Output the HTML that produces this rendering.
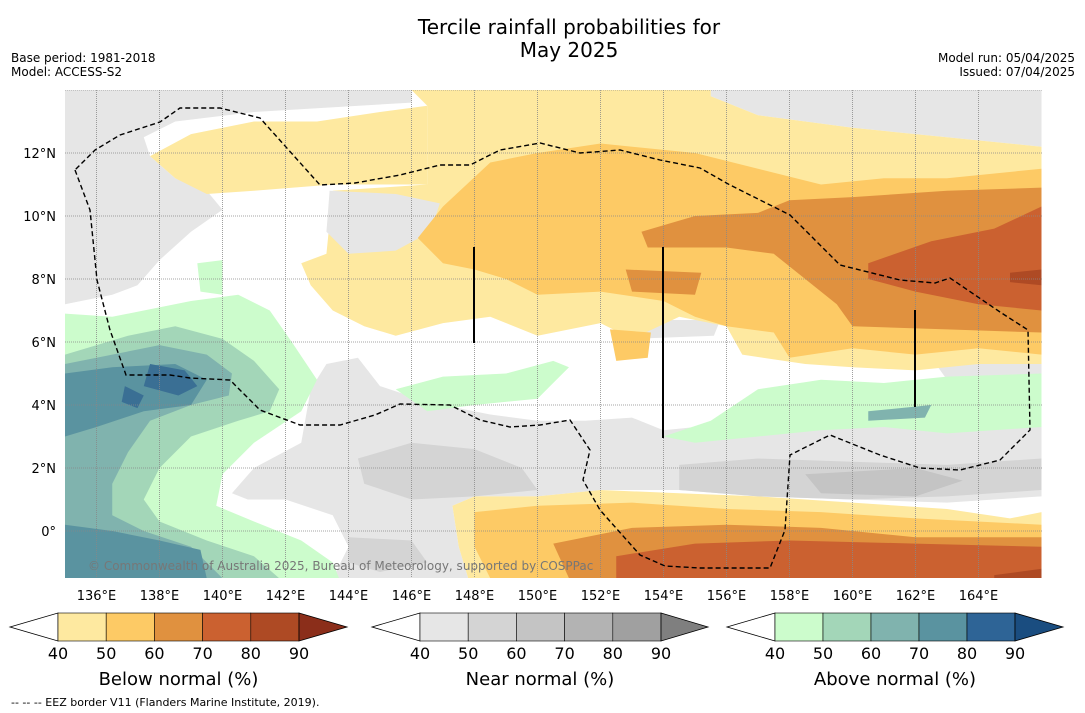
<!DOCTYPE html>
<html><head><meta charset="utf-8"><style>
body{margin:0;background:#fff;font-family:"Liberation Sans","DejaVu Sans",sans-serif;}
svg{display:block}
</style></head><body>
<svg id="chart" width="1085" height="713" xmlns="http://www.w3.org/2000/svg">
<rect width="1085" height="713" fill="#fff"/>
<text x="569" y="34" font-size="20" text-anchor="middle" font-family="DejaVu Sans, sans-serif">Tercile rainfall probabilities for</text>
<text x="569" y="57" font-size="20" text-anchor="middle" font-family="DejaVu Sans, sans-serif">May 2025</text>
<text x="11" y="62" font-size="12" font-family="DejaVu Sans, sans-serif">Base period: 1981-2018</text>
<text x="11" y="76" font-size="12" font-family="DejaVu Sans, sans-serif">Model: ACCESS-S2</text>
<text x="1075" y="62" font-size="12" text-anchor="end" font-family="DejaVu Sans, sans-serif">Model run: 05/04/2025</text>
<text x="1075" y="76" font-size="12" text-anchor="end" font-family="DejaVu Sans, sans-serif">Issued: 07/04/2025</text>
<clipPath id="mapclip"><rect x="65" y="90" width="977" height="488"/></clipPath>
<g id="map" clip-path="url(#mapclip)"></g>
<g id="axes"></g>
<g id="bars"></g>
<text x="11" y="706" font-size="11" font-family="DejaVu Sans, sans-serif">-- -- -- EEZ border V11 (Flanders Marine Institute, 2019).</text>
</svg>
<script>
const NS="http://www.w3.org/2000/svg";
const lonTicks=[136,138,140,142,144,146,148,150,152,154,156,158,160,162,164];
const latTicks=[0,2,4,6,8,10,12];
const colorsBelow=["#fee9a0","#fdca65","#e0913f","#cb6130","#ae4a24","#8b2e1a"];
const colorsNear=["#e6e6e6","#d4d4d4","#c4c4c4","#b3b3b3","#a0a0a0","#7f7f7f"];
const colorsAbove=["#ccfccc","#a3d6b8","#80b3ae","#5a93a0","#2e6496","#1a4d80"];
const barLabels=[40,50,60,70,80,90];
const G1=[
[[135,14],[146,14],[146,13.6],[141,13.3],[138.5,13],[137.5,12.5],[137.7,11.9],[138.5,11.2],[139.5,10.8],[140,10.2],[139,9.5],[138,8.6],[137.3,7.8],[136.5,7.5],[135,7.2]],
[[155.5,14],[166,14],[166,12.2],[163,12.5],[160,12.8],[157,13.2],[155.5,13.8]],
[[140.3,1.2],[141,2],[142.5,2.8],[142.8,4.5],[143.3,5.3],[144.3,5.5],[145,4.6],[146.5,4.1],[148.5,3.7],[150,3.5],[151.5,3.5],[153,3.6],[154,3.2],[156,3.4],[158,3.5],[160,3.5],[163,3.7],[166,3.7],[166,1.1],[163,0.9],[160,1],[157,1.1],[154.5,1.3],[152,1.3],[150,1.1],[148,1.1],[147.3,0.8],[147.5,-0.5],[147.8,-1.5],[143.5,-1.5],[144,-0.5],[143.5,0.5],[142,1],[140.8,1]],
[[162.5,5.5],[166,5.4],[166,4.7],[163,4.8]],
[[152.8,6.7],[155.8,6.7],[155.6,6.2],[153,6.1]]
];
const G1b=[[[143.4,10.8],[145.5,10.7],[146.9,10.4],[146.6,9.5],[145.5,8.9],[144,8.8],[143.3,9.5]]];
const G2=[
[[144.3,2.3],[146,2.8],[148,2.6],[149.5,2],[150,1.3],[148,1.1],[146,1],[144.5,1.5]],
[[154.5,2.1],[157,2.3],[160,2.2],[163,2.1],[166,2.3],[166,1.3],[163,1.1],[160,1],[157,1.1],[154.5,1.3]],
[[144,-0.2],[146,-0.3],[146.5,-1],[145,-1.3],[144,-1]]
];
const G3=[[[158.5,1.8],[162,2],[163.5,1.6],[162,1.1],[159,1.2]]];
const Y1=[
[[137.7,11.9],[139,12.6],[141,13],[143,13],[145,13.3],[146.5,13.5],[146.5,11],[143.5,11],[141,10.8],[139.5,10.7],[138.5,11.2]],
[[146,14],[155.5,14],[155.5,13.8],[157,13.2],[160,12.8],[163,12.5],[166,12.2],[166,5.3],[164,5.3],[162,5.1],[160,5.2],[158.5,5.3],[156.5,5.6],[156,6.5],[154.5,6.8],[153,6.1],[152,6.6],[150,6.2],[148.5,6.8],[147,6.6],[145.5,6.2],[144.5,6.5],[143.5,7],[142.8,7.8],[142.5,8.5],[143.3,8.8],[143.5,10.8],[146.5,11],[146.5,13.5]],
[[147.3,0.8],[148,1.1],[150,1.1],[152,1.3],[154.5,1.2],[157,1.1],[160,0.9],[163,0.7],[165,0.4],[166,0.6],[166,-1.5],[147.8,-1.5],[147.5,-0.5]]
];
const Y2=[
[[146.2,9.3],[147,10.3],[148.5,11.7],[150,12],[152,12.3],[155,12],[157,11.5],[159,11],[161,11.2],[163,11.2],[166,11.5],[166,5.6],[164,5.8],[162,5.6],[160,5.8],[158,5.5],[157.5,6.3],[156,6.5],[155,6.8],[154,7.3],[152,7.6],[150,7.5],[149,8],[148,8.3],[147,8.5]],
[[152.3,6.4],[153.6,6.3],[153.5,5.5],[152.5,5.4]],
[[148,0.6],[150,0.8],[153,0.9],[156,0.7],[159,0.6],[162,0.4],[166,0.2],[166,-1.5],[148.5,-1.5],[148,-0.5]]
];
const O3=[
[[153.3,9.5],[155,10],[157,10.1],[158,10.5],[160,10.6],[163,10.8],[166,10.9],[166,6.3],[163,6.4],[160,6.5],[159.5,7.2],[158.5,8],[157.5,8.8],[156,9],[154.5,9],[153.5,9]],
[[152.8,8.3],[155.2,8.2],[155,7.5],[153,7.6]],
[[150.5,-0.4],[153,0.1],[156,0.2],[159,0.1],[162,-0.2],[166,-0.2],[166,-1.5],[151,-1.5]]
];
const O4=[
[[160.5,8.5],[162.5,9.2],[164.5,9.6],[166,10.3],[166,7],[164,7.2],[162,7.6],[160.5,8]],
[[152.5,-0.8],[155,-0.4],[158,-0.3],[162,-0.4],[166,-0.5],[166,-1.5],[152.5,-1.5]]
];
const O5=[[[165,8.2],[166,8.3],[166,7.8],[165,7.9]],[[164.5,-1.4],[166,-1.2],[166,-1.5],[164.5,-1.5]]];
const A1=[
[[135,6.9],[136.5,6.8],[137.5,7],[139,7.3],[140.5,7.5],[141.5,7],[142.2,6],[143,4.8],[142.5,3.8],[141,2.8],[140,1.8],[139.8,0.8],[141,0.3],[142.5,-0.3],[143.5,-1],[143.7,-1.5],[135,-1.5]],
[[139.2,8.5],[140,8.6],[140,7.5],[139.3,7.6]],
[[145.5,4.5],[147,4.9],[149,5],[150.5,5.4],[151,5.2],[150,4.2],[148,4],[146.5,3.8]],
[[154,3],[155.5,3.5],[157,4.5],[159,4.8],[161,4.7],[163,4.9],[166,5],[166,3.3],[163,3.1],[161,3.3],[159,3.2],[157,3],[155,2.8]]
];
const A2=[[[135,5.6],[137,6.2],[138.5,6.5],[140,6.1],[141,5.4],[141.8,4.5],[141.5,3.8],[140.5,3.5],[139,3],[138,2],[137.5,1],[138,0.3],[139.5,-0.3],[141,-0.8],[141.8,-1.5],[135,-1.5]]];
const A3=[[[135,5.3],[136.5,5.6],[138,5.9],[139.5,5.6],[140.3,5],[140.2,4.3],[139,4],[137.7,3.5],[137,2.5],[136.5,1.5],[136.5,0.5],[137.5,0],[139,-0.5],[140,-1.5],[135,-1.5]],[[160.5,3.8],[162.5,4],[162.3,3.6],[160.5,3.5]]];
const A4=[[[135,5],[136.5,5.2],[138.5,5.3],[139.5,4.8],[139,4],[137.5,3.8],[136,3.3],[135,3]],[[135,0.2],[136.5,0],[138,-0.3],[139.3,-0.6],[139.5,-1.5],[135,-1.5]]];
const A5=[[[137.7,5.3],[138.8,5.1],[139.2,4.6],[138.6,4.3],[137.5,4.6]],[[136.9,4.6],[137.5,4.3],[137.3,3.9],[136.8,4.1]]];
const layers=[[G1,colorsNear[0]],[Y1,colorsBelow[0]],[G1b,colorsNear[0]],[G2,colorsNear[1]],[G3,colorsNear[2]],[Y2,colorsBelow[1]],[O3,colorsBelow[2]],[O4,colorsBelow[3]],[O5,colorsBelow[4]],[A1,colorsAbove[0]],[A2,colorsAbove[1]],[A3,colorsAbove[2]],[A4,colorsAbove[3]],[A5,"#3a6f94"]];
const xS=lon=>65+(lon-135)*31.5;
const yS=lat=>531-lat*31.5;
const map=document.getElementById('map');
layers.forEach(([polys,col],li)=>{polys.forEach((p,pi)=>{
 const el=document.createElementNS(NS,'polygon');
 el.setAttribute('points',p.map(q=>xS(q[0])+','+yS(q[1])).join(' '));
 el.setAttribute('fill',col);
 
 
 map.appendChild(el);});});
lonTicks.forEach(l=>{const e=document.createElementNS(NS,'line');e.setAttribute('x1',xS(l));e.setAttribute('x2',xS(l));e.setAttribute('y1',90);e.setAttribute('y2',578);e.setAttribute('stroke','#888');e.setAttribute('stroke-width','0.8');e.setAttribute('stroke-dasharray','1,1');


map.appendChild(e);});
latTicks.concat([14]).forEach(l=>{const e=document.createElementNS(NS,'line');e.setAttribute('y1',yS(l));e.setAttribute('y2',yS(l));e.setAttribute('x1',65);e.setAttribute('x2',1042);e.setAttribute('stroke','#888');e.setAttribute('stroke-width','0.8');e.setAttribute('stroke-dasharray','1,1');


map.appendChild(e);});
const eez=document.createElementNS(NS,'path');
eez.setAttribute('d','M75,170 L90,210 97,280 110,330 126,375 170,375 190,378 230,380 260,410 300,425 340,425 375,415 400,404 450,405 480,420 510,427 540,425 570,420 590,450 583,480 600,510 640,555 665,566 700,568 770,568 785,530 790,455 830,435 880,455 920,468 960,470 1000,460 1030,430 1028,330 1000,312 950,278 935,283 900,280 840,265 820,245 790,215 760,200 730,185 700,168 660,160 620,150 580,153 540,143 500,150 470,165 440,165 400,175 355,183 320,185 260,118 220,108 180,108 160,122 120,135 95,150 Z');
eez.setAttribute('fill','none');eez.setAttribute('stroke','#000');eez.setAttribute('stroke-width','1.4');eez.setAttribute('stroke-dasharray','5,3');


map.appendChild(eez);
[[474,247,343],[663,247,438],[915,310,407]].forEach(v=>{const e=document.createElementNS(NS,'line');e.setAttribute('x1',v[0]);e.setAttribute('x2',v[0]);e.setAttribute('y1',v[1]);e.setAttribute('y2',v[2]);e.setAttribute('stroke','#000');e.setAttribute('stroke-width','2');


map.appendChild(e);});
const cp=document.createElementNS(NS,'text');cp.setAttribute('x',88);cp.setAttribute('y',570);cp.setAttribute('font-size','12');cp.setAttribute('fill','#777');cp.setAttribute('font-family','DejaVu Sans, sans-serif');cp.textContent='© Commonwealth of Australia 2025, Bureau of Meteorology, supported by COSPPac';


map.appendChild(cp);
const ax=document.getElementById('axes');
lonTicks.forEach(l=>{const t=document.createElementNS(NS,'text');t.setAttribute('x',xS(l));t.setAttribute('y',600);t.setAttribute('font-size','13');t.setAttribute('text-anchor','middle');t.setAttribute('font-family','DejaVu Sans, sans-serif');t.textContent=l+'°E';


ax.appendChild(t);});
latTicks.forEach(l=>{const t=document.createElementNS(NS,'text');t.setAttribute('x',56);t.setAttribute('y',yS(l)+5);t.setAttribute('font-size','13');t.setAttribute('text-anchor','end');t.setAttribute('font-family','DejaVu Sans, sans-serif');t.textContent=l===0?'0°':l+'°N';


ax.appendChild(t);});
const bars=document.getElementById('bars');
[[10,58,299,347,colorsBelow,'Below normal (%)','below-colorbar'],[372,420,661,708,colorsNear,'Near normal (%)','near-colorbar'],[727,775,1015,1063,colorsAbove,'Above normal (%)','above-colorbar']].forEach(b=>{
 const [x0,x1,x2,x3,cols,title,name]=b;const g=document.createElementNS(NS,'g');
 
 
 const top=613,bot=641,mid=627,w=(x2-x1)/5;
 let s='<polygon points="'+x0+','+mid+' '+x1+','+top+' '+x1+','+bot+'" fill="#fff" stroke="#000" stroke-width="0.8"/>';
 for(let i=0;i<5;i++)s+='<rect x="'+(x1+i*w)+'" y="'+top+'" width="'+w+'" height="'+(bot-top)+'" fill="'+cols[i]+'" stroke="#000" stroke-width="0.6"/>';
 s+='<polygon points="'+x2+','+top+' '+x3+','+mid+' '+x2+','+bot+'" fill="'+cols[5]+'" stroke="#000" stroke-width="0.8"/>';
 barLabels.forEach((v,i)=>{s+='<text x="'+(x1+i*w)+'" y="659" font-size="16" text-anchor="middle" font-family="DejaVu Sans, sans-serif">'+v+'</text>';});
 s+='<text x="'+((x0+x3)/2)+'" y="685" font-size="18" text-anchor="middle" font-family="DejaVu Sans, sans-serif">'+title+'</text>';
 g.innerHTML=s;bars.appendChild(g);});
</script>
</body></html>
